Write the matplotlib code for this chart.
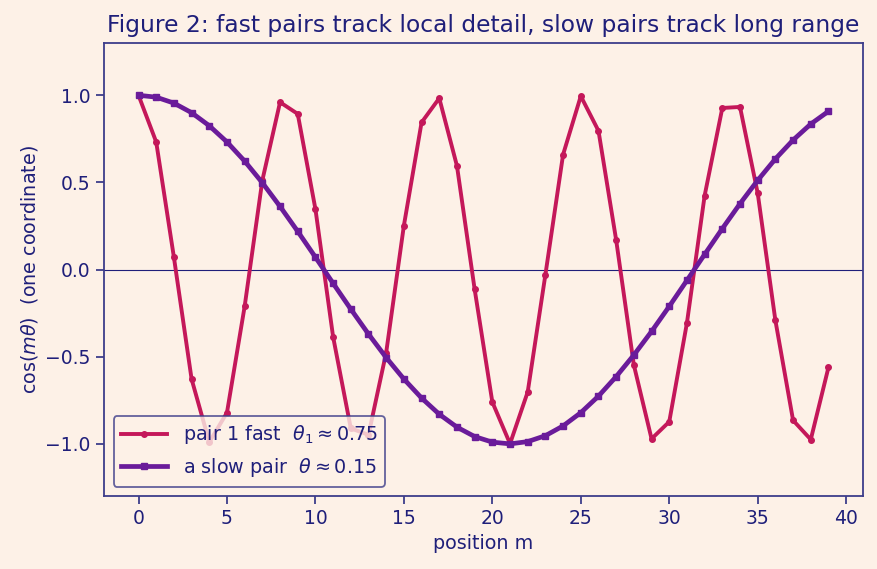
import matplotlib
matplotlib.use("Agg")
import matplotlib.pyplot as plt

m = list(range(40))
fast = [1.000, 0.732, 0.071, -0.628, -0.990, -0.821, -0.211, 0.512, 0.960, 0.893,
        0.347, -0.386, -0.911, -0.948, -0.476, 0.252, 0.844, 0.983, 0.595, -0.113,
        -0.760, -0.999, -0.702, -0.029, 0.660, 0.995, 0.796, 0.169, -0.548, -0.971,
        -0.873, -0.306, 0.424, 0.927, 0.933, 0.438, -0.292, -0.865, -0.975, -0.561]
slow = [1.000, 0.989, 0.955, 0.900, 0.825, 0.732, 0.622, 0.498, 0.362, 0.219,
        0.071, -0.079, -0.227, -0.370, -0.505, -0.628, -0.737, -0.830, -0.904, -0.958,
        -0.990, -1.000, -0.987, -0.953, -0.897, -0.821, -0.726, -0.614, -0.490, -0.355,
        -0.211, -0.062, 0.087, 0.235, 0.378, 0.512, 0.635, 0.743, 0.835, 0.908]

bg = "#fdf1e7"
ink = "#1f1f7a"
edge = "#3d3d8a"

plt.rcParams["text.color"] = ink
plt.rcParams["axes.labelcolor"] = ink
plt.rcParams["xtick.color"] = edge
plt.rcParams["ytick.color"] = edge
plt.rcParams["xtick.labelcolor"] = ink
plt.rcParams["ytick.labelcolor"] = ink

fig = plt.figure(figsize=(8.77, 5.69), dpi=100, facecolor=bg)
ax = fig.add_axes([0.1186, 0.128, 0.8654, 0.7965])
ax.set_facecolor(bg)

ax.axhline(0, color=ink, lw=0.8)
ax.plot(m, fast, color="#c4185a", lw=2.8, marker="o", ms=4,
        label=r"pair 1 fast  $\theta_1 \approx 0.75$")
ax.plot(m, slow, color="#6a1b9a", lw=3.4, marker="s", ms=5,
        label=r"a slow pair  $\theta \approx 0.15$")

ax.set_ylim(-1.3, 1.3)
ax.set_xticks([0, 5, 10, 15, 20, 25, 30, 35, 40])
ax.set_yticks([-1.0, -0.5, 0.0, 0.5, 1.0])
ax.tick_params(labelsize=13.5, length=6, width=1.3)
for s in ax.spines.values():
    s.set_color(edge)
    s.set_linewidth(1.3)

ax.set_xlabel("position m", fontsize=13.8)
ax.set_ylabel(r"$\cos(m\theta)$  (one coordinate)", fontsize=13.8)
ax.set_title("Figure 2: fast pairs track local detail, slow pairs track long range",
             fontsize=16.8, color=ink, pad=8)

leg = ax.legend(loc="lower left", fontsize=13.8, facecolor=bg, edgecolor=edge,
                framealpha=0.8, handlelength=2.4)
leg.get_frame().set_linewidth(1.3)

fig.savefig("out.png", dpi=100, facecolor=bg)
